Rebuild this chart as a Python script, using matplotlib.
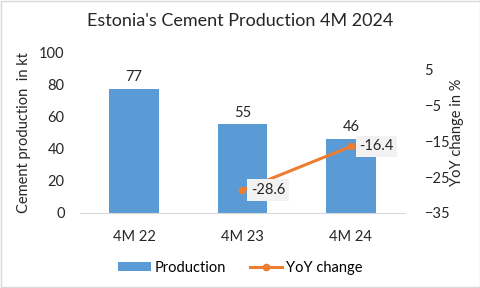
import matplotlib.pyplot as plt
import numpy as np

categories = ["4M 22", "4M 23", "4M 24"]
production = [77, 55, 46]
yoy_cats = ["4M 23", "4M 24"]
yoy_change = [-28.6, -16.4]

plt.rcParams['font.family'] = ['Lato', 'DejaVu Sans']

fig = plt.figure(figsize=(4.81, 2.88), dpi=100)
ax = fig.add_axes([80/481, 1 - 213/288, 325/481, (213 - 52)/288])

x = np.arange(len(categories))
bars = ax.bar(x, production, width=0.46, color='#5B9BD5', label='Production', zorder=2)
for xi, v in zip(x, production):
    ax.text(xi, v + 3, str(v), ha='center', va='bottom', fontsize=10.5, color='#262626')

ax.set_xlim(-0.5, 2.5)
ax.set_ylim(0, 100)
ax.set_yticks(range(0, 101, 20))
ax.set_xticks(x)
ax.set_xticklabels(categories)
ax.tick_params(axis='both', length=0, labelsize=10.5, colors='#262626')
ax.tick_params(axis='x', pad=12)
ax.tick_params(axis='y', pad=11)
for s in ['top', 'right', 'left']:
    ax.spines[s].set_visible(False)
ax.spines['bottom'].set_color('#D9D9D9')
ax.set_ylabel('Cement production  in kt', fontsize=10.5, color='#262626', labelpad=6)

ax2 = ax.twinx()
xl = [categories.index(c) for c in yoy_cats]
line, = ax2.plot(xl, yoy_change, color='#ED7D31', lw=2.2, marker='o', ms=4.5, label='YoY change', zorder=3)
for xi, v in zip(xl, yoy_change):
    ax2.annotate(f"{v}", (xi, v), xytext=(6, 0), textcoords='offset points',
                 ha='left', va='center', fontsize=10.5, color='#262626',
                 bbox=dict(boxstyle='square,pad=0.25', fc='#F2F2F2', ec='none'))
ax2.set_ylim(-35, 10)
ax2.set_yticks(range(-35, 6, 10))
ax2.tick_params(axis='y', length=0, labelsize=10.5, colors='#262626', pad=14)
for s in ax2.spines.values():
    s.set_visible(False)
ax2.set_ylabel('YoY change in %', fontsize=10.5, color='#262626', labelpad=0)

fig.suptitle("Estonia's Cement Production 4M 2024", y=0.955, fontsize=13, color='#262626')
fig.legend(handles=[bars, line], loc='lower center', bbox_to_anchor=(0.5, 0.0), ncol=2,
           frameon=False, fontsize=10.5, handlelength=2.2, handleheight=0.6,
           handletextpad=0.3, columnspacing=1.6)

fig.patches.append(plt.Rectangle((0.002, 0.003), 0.996, 0.994, transform=fig.transFigure,
                                 fill=False, ec='#D9D9D9', lw=1))
fig.savefig('out.png', dpi=100)
